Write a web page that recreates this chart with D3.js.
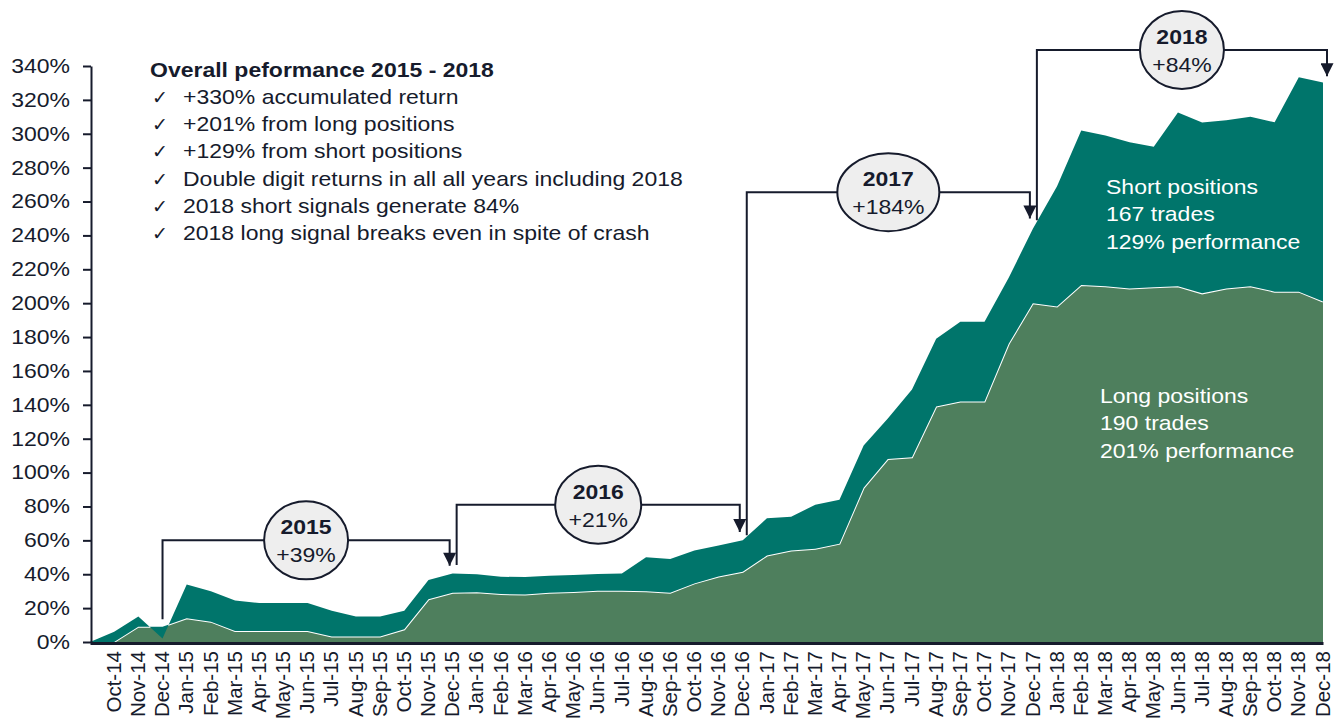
<!DOCTYPE html>
<html>
<head>
    <meta charset="utf-8" />
    <title>Long / short performance</title>
    <script src="https://cdn.jsdelivr.net/npm/d3@7"></script>
    <style>
        body { margin: 0; background: #fff; }
        text { font-family: Arial, "Liberation Sans", sans-serif; }
    </style>
</head>
<body>
<script>

    // Width and height
    var w = 1334;
    var h = 723;
    var stretch = 1.15;   // text in the original is a bit wide

    // categories (first one is the blank start point)
    var months = ["", "Oct-14", "Nov-14", "Dec-14",
        "Jan-15", "Feb-15", "Mar-15", "Apr-15", "May-15", "Jun-15", "Jul-15", "Aug-15", "Sep-15", "Oct-15", "Nov-15", "Dec-15",
        "Jan-16", "Feb-16", "Mar-16", "Apr-16", "May-16", "Jun-16", "Jul-16", "Aug-16", "Sep-16", "Oct-16", "Nov-16", "Dec-16",
        "Jan-17", "Feb-17", "Mar-17", "Apr-17", "May-17", "Jun-17", "Jul-17", "Aug-17", "Sep-17", "Oct-17", "Nov-17", "Dec-17",
        "Jan-18", "Feb-18", "Mar-18", "Apr-18", "May-18", "Jun-18", "Jul-18", "Aug-18", "Sep-18", "Oct-18", "Nov-18", "Dec-18"];

    // accumulated return from long positions (%)
    var longValues = [0, 0, 9, 9,
        14, 12, 6.5, 6.5, 6.5, 6.5, 3.2, 3.2, 3.2, 7.5, 25.2, 29.1,
        29.3, 28.3, 28, 29, 29.5, 30.3, 30.3, 30, 29.1, 34.6, 38.6, 41.5,
        51, 54, 55, 58, 91, 108, 109, 139, 142, 142, 176, 200,
        198, 210.7, 210, 208.7, 209.4, 210, 205.8, 208.6, 210, 206.8, 206.8, 201];

    // accumulated return from short positions (%), stacked on top of long
    var shortValues = [0, 6, 6, -7,
        20, 18, 18, 16.5, 16.5, 16.5, 15.3, 11.8, 11.8, 11, 11.4, 11.4,
        10.7, 10.2, 10.3, 10.1, 10, 9.8, 10.2, 20, 19.9, 19.4, 18.4, 18.5,
        22, 20, 26, 26, 25, 24, 40, 40, 47, 47, 39, 44,
        71, 91.3, 89, 86.3, 83, 102.5, 100.8, 99.4, 100, 100, 126.6, 129.2];

    var yTicks = d3.range(0, 341, 20);

    var textTitle = "Overall peformance 2015 - 2018";
    var textLines = ["+330% accumulated return",
        "+201% from long positions",
        "+129% from short positions",
        "Double digit returns in all all years including 2018",
        "2018 short signals generate 84%",
        "2018 long signal breaks even in spite of crash"];

    var shortLabel = ["Short positions", "167 trades", "129% performance"];
    var longLabel = ["Long positions", "190 trades", "201% performance"];

    // yearly brackets: from month, to month, level (%), line ends (%), year, return
    var brackets = [
        { from: "Dec-14", to: "Dec-15", level: 60, startEnd: 13.5, arrowEnd: 45, year: "2015", ret: "+39%" },
        { from: "Dec-15", to: "Dec-16", level: 81, startEnd: 45.5, arrowEnd: 65, year: "2016", ret: "+21%" },
        { from: "Dec-16", to: "Dec-17", level: 265.5, startEnd: 63, arrowEnd: 250, year: "2017", ret: "+184%" },
        { from: "Dec-17", to: "Dec-18", level: 349.5, startEnd: 249, arrowEnd: 334, year: "2018", ret: "+84%" }
    ];
    var bracketRx = [42, 43, 51, 42];

    var dataset = months.map(function (m, i) {
        return { month: m, long: longValues[i], total: longValues[i] + shortValues[i] };
    });

    var ink = "#161b2c";

    var xScale = d3.scalePoint()
        .domain(months)
        .range([90, 1323]);

    var yScale = d3.scaleLinear()
        .domain([0, 340])
        .range([642, 66]);

    // Create SVG element
    var svg = d3.select("body")
        .append("svg")
        .attr("width", w)
        .attr("height", h);

    // text helper, stretched a little horizontally
    var addText = function (x, y, str, size, color, bold, anchor) {
        return svg.append("text")
            .attr("transform", "translate(" + x + "," + y + ") scale(" + stretch + ",1)")
            .attr("text-anchor", anchor || "start")
            .attr("font-size", size + "px")
            .attr("font-weight", bold ? "bold" : "normal")
            .attr("fill", color)
            .text(str);
    };

    var defs = svg.append("defs");
    defs.append("marker")
        .attr("id", "arrow")
        .attr("viewBox", "0 0 10 10")
        .attr("refX", 10)
        .attr("refY", 5)
        .attr("markerUnits", "userSpaceOnUse")
        .attr("markerWidth", 15)
        .attr("markerHeight", 13)
        .attr("orient", "auto")
        .append("path")
        .attr("d", "M0,0 L10,5 L0,10 Z")
        .attr("fill", ink);

    // long area
    var longArea = d3.area()
        .x(function (d) { return xScale(d.month); })
        .y0(yScale(0))
        .y1(function (d) { return yScale(d.long); });

    svg.append("path")
        .datum(dataset)
        .attr("d", longArea)
        .attr("fill", "#4e7f5d");

    var longLine = d3.line()
        .x(function (d) { return xScale(d.month); })
        .y(function (d) { return yScale(d.long); });

    svg.append("path")
        .datum(dataset.slice(1))
        .attr("d", longLine)
        .attr("fill", "none")
        .attr("stroke", "#fff")
        .attr("stroke-width", 2);

    // short area (between long and total)
    var shortArea = d3.area()
        .x(function (d) { return xScale(d.month); })
        .y0(function (d) { return yScale(d.long); })
        .y1(function (d) { return yScale(d.total); });

    svg.append("path")
        .datum(dataset)
        .attr("d", shortArea)
        .attr("fill", "#00756b");

    // y axis
    var yAxis = d3.axisLeft(yScale)
        .tickValues(yTicks)
        .tickSize(8)
        .tickSizeOuter(0)
        .tickFormat(function (d) { return d + "%"; });

    var gy = svg.append("g")
        .attr("transform", "translate(91,0)")
        .call(yAxis);
    gy.select(".domain").attr("stroke", ink).attr("stroke-width", 2);
    gy.selectAll(".tick line").attr("stroke", ink).attr("stroke-width", 2);
    gy.selectAll(".tick text")
        .attr("fill", ink)
        .attr("font-size", "20px")
        .attr("font-family", "Arial, 'Liberation Sans', sans-serif")
        .attr("x", -21 / stretch)
        .attr("transform", "scale(" + stretch + ",1)");

    // x axis
    var xAxis = d3.axisBottom(xScale)
        .tickSize(0)
        .tickSizeOuter(0);

    var gx = svg.append("g")
        .attr("transform", "translate(0,643)")
        .call(xAxis);
    gx.select(".domain").attr("stroke", ink).attr("stroke-width", 3);
    gx.selectAll(".tick text")
        .attr("fill", ink)
        .attr("font-size", "20.5px")
        .attr("font-family", "Arial, 'Liberation Sans', sans-serif")
        .attr("text-anchor", "end")
        .attr("transform", "rotate(-90)")
        .attr("x", -8)
        .attr("y", 0)
        .attr("dy", "0.3em");

    // yearly brackets
    brackets.forEach(function (b, i) {
        var x0 = xScale(b.from) + (i == 0 ? 0 : 4);
        var x1 = xScale(b.to) + (i == brackets.length - 1 ? 4 : -3);
        var yl = yScale(b.level);
        var cx = (x0 + x1) / 2;

        svg.append("path")
            .attr("d", "M" + x0 + "," + yScale(b.startEnd) + " V" + yl + " H" + x1 + " V" + yScale(b.arrowEnd))
            .attr("fill", "none")
            .attr("stroke", ink)
            .attr("stroke-width", 2)
            .attr("marker-end", "url(#arrow)");

        svg.append("ellipse")
            .attr("cx", cx)
            .attr("cy", yl)
            .attr("rx", bracketRx[i])
            .attr("ry", 39)
            .attr("fill", "#eeeeee")
            .attr("stroke", ink)
            .attr("stroke-width", 2);

        addText(cx, yl - 6, b.year, 20, ink, true, "middle");
        addText(cx, yl + 22, b.ret, 20, ink, false, "middle");
    });

    // overview text
    addText(150, 77, textTitle, 20, ink, true);

    textLines.forEach(function (t, i) {
        var yy = 104 + i * 27.2;
        svg.append("text")
            .attr("x", 152)
            .attr("y", yy)
            .attr("font-size", "19px")
            .attr("fill", ink)
            .attr("font-family", "'DejaVu Sans', sans-serif")
            .text("\u2713");
        addText(183, yy, t, 20, ink, false);
    });

    // series labels
    shortLabel.forEach(function (t, i) {
        addText(1106, 194 + i * 27.3, t, 20, "#fff", false);
    });
    longLabel.forEach(function (t, i) {
        addText(1100, 403 + i * 27.3, t, 20, "#fff", false);
    });

</script>
</body>
</html>
